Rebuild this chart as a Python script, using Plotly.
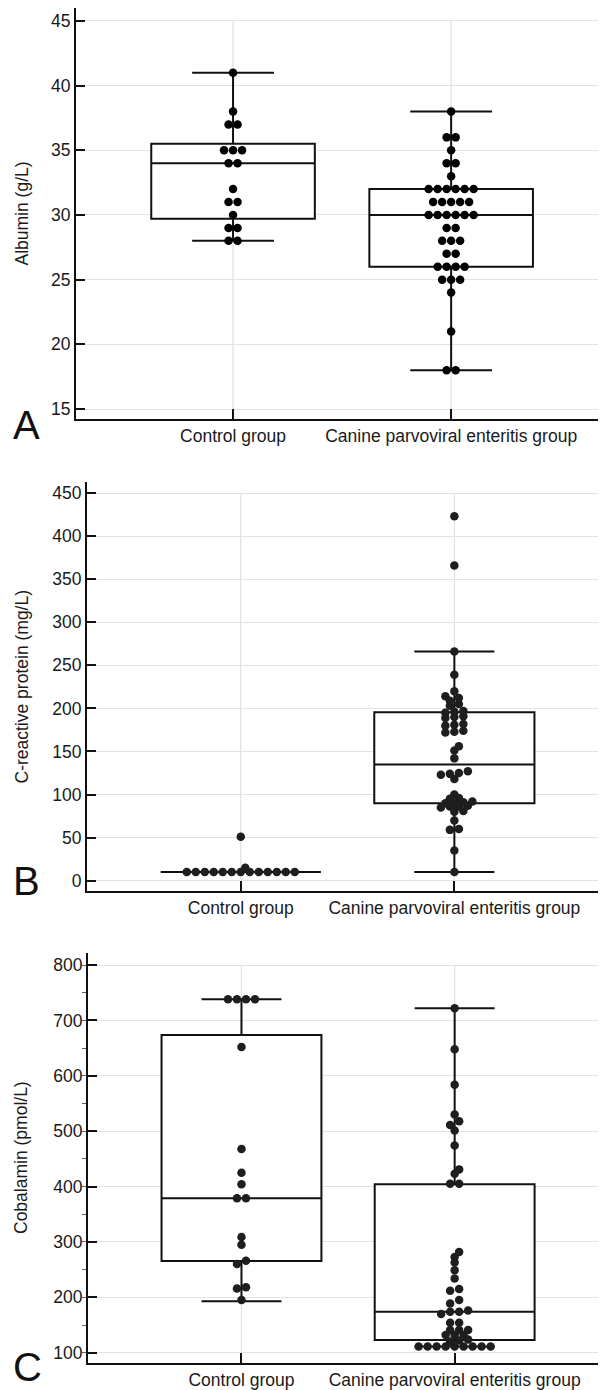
import plotly.graph_objects as go

# The page body adds an 8 px margin, so the figure is drawn 8 px in from the
# top-left of the 606x1390 window; all pixel positions below are window pixels.
PAGE = 8
W, H = 606 - PAGE, 1390 - PAGE

categories = ["Control group", "Canine parvoviral enteritis group"]

# ---------------- Panel A: Albumin (g/L) ----------------
albumin_control = [41, 38, 37, 37, 35, 35, 35, 34, 34, 32, 31, 31, 30, 29, 29, 28, 28]
albumin_cpv = [38, 36, 36, 35, 34, 34, 33,
               32, 32, 32, 32, 32, 32,
               31, 31, 31, 31, 31,
               30, 30, 30, 30, 30, 30,
               29, 29, 28, 28, 28, 27, 27,
               26, 26, 26, 26, 25, 25, 25,
               24, 21, 18, 18]
albumin_q1 = [29.7, 26.0]
albumin_median = [34.0, 30.0]
albumin_q3 = [35.5, 32.0]
albumin_lower = [28.0, 18.0]
albumin_upper = [41.0, 38.0]
albumin_ticks = [15, 20, 25, 30, 35, 40, 45]

# ---------------- Panel B: C-reactive protein (mg/L) ----------------
crp_control = [10, 10, 10, 10, 10, 10, 10, 10, 10, 10, 10, 10, 10, 15, 51]
crp_cpv = [423, 366, 266, 239, 220, 214, 212, 209, 205, 203,
           197, 196, 195, 191, 190, 189, 182, 181, 180, 174, 173, 172,
           156, 151, 142, 127, 125, 124, 123, 118, 100, 96, 95,
           92, 91, 90, 90, 87, 86, 86, 85, 81, 80, 70, 60, 59, 35, 10]
crp_q1 = [10.0, 90.0]
crp_median = [10.0, 135.0]
crp_q3 = [10.0, 195.5]
crp_lower = [10.0, 10.0]
crp_upper = [10.0, 266.0]
crp_ticks = [0, 50, 100, 150, 200, 250, 300, 350, 400, 450]

# ---------------- Panel C: Cobalamin (pmol/L) ----------------
cobalamin_control = [738, 738, 738, 738, 652, 468, 425, 404, 379, 379,
                     309, 295, 266, 260, 218, 216, 195]
cobalamin_cpv = [722, 648, 584, 530, 518, 511, 501, 474, 431, 423, 405, 405,
                 282, 273, 263, 249, 234, 215, 212, 195, 189,
                 176, 174, 174, 170, 154, 154, 141, 141, 141, 132, 132, 132,
                 124, 122, 120,
                 111, 111, 111, 111, 111, 111, 111, 111, 111]
cobalamin_q1 = [265.5, 123.0]
cobalamin_median = [379.0, 174.0]
cobalamin_q3 = [673.6, 404.0]
cobalamin_lower = [193.0, 111.0]
cobalamin_upper = [738.0, 722.0]
cobalamin_ticks = [100, 200, 300, 400, 500, 600, 700, 800]

FONT = "Liberation Sans, Arial, Helvetica, sans-serif"
GRID = "#e3e3e3"
INK = "#111111"
TXT = "#1a1a1a"
TICK_SIZE = 17.5
X_RANGE = [-0.72, 1.71]

# panel geometry in window pixels (left edge of plot, top, bottom) and y ranges
panels = [
    dict(name="A", title="Albumin (g/L)", left=76, top=8, bottom=419, letter_y=425,
         yrange=[14.23, 46.0], ticks=albumin_ticks,
         groups=[albumin_control, albumin_cpv],
         q1=albumin_q1, med=albumin_median, q3=albumin_q3,
         lo=albumin_lower, hi=albumin_upper, dot="#000000", minor=None),
    dict(name="B", title="C-reactive protein (mg/L)", left=87, top=482, bottom=891, letter_y=881,
         yrange=[-11.96, 462.8], ticks=crp_ticks,
         groups=[crp_control, crp_cpv],
         q1=crp_q1, med=crp_median, q3=crp_q3,
         lo=crp_lower, hi=crp_upper, dot="#1e1e1e", minor=None),
    dict(name="C", title="Cobalamin (pmol/L)", left=88, top=953, bottom=1363, letter_y=1367,
         yrange=[81.4, 821.7], ticks=cobalamin_ticks,
         groups=[cobalamin_control, cobalamin_cpv],
         q1=cobalamin_q1, med=cobalamin_median, q3=cobalamin_q3,
         lo=cobalamin_lower, hi=cobalamin_upper, dot="#1e1e1e", minor=50),
]


def fx(px):
    """window x pixel -> paper fraction"""
    return (px - PAGE) / W


def fy(py):
    """window y pixel -> paper fraction (from bottom)"""
    return 1 - (py - PAGE) / H


def swarm_offsets(values, ppu_y, ppu_x, step_px=9.0, bin_px=4.0, min_dist_px=5.0):
    """Simple beeswarm: near-equal values form symmetric rows; rows avoid overlap."""
    order = sorted(range(len(values)), key=lambda i: values[i])
    rows, cur, start = [], [], None
    for i in order:
        v = values[i]
        if cur and (v - start) * ppu_y < bin_px:
            cur.append(i)
        else:
            if cur:
                rows.append(cur)
            cur, start = [i], v
    if cur:
        rows.append(cur)
    rows.sort(key=lambda r: (-len(r), values[r[0]]))
    placed = []
    offsets = [0.0] * len(values)
    for row in rows:
        n = len(row)
        base = [(k - (n - 1) / 2) * step_px for k in range(n)]
        shift = 0.0
        for sk in [0, 1, -1, 2, -2, 3, -3, 4, -4, 5, -5, 6, -6]:
            shift = sk * step_px / 2
            ok = True
            for idx, b in zip(row, base):
                xp, yp = b + shift, values[idx] * ppu_y
                for (px, py) in placed:
                    if (xp - px) ** 2 + (yp - py) ** 2 < min_dist_px ** 2 - 1e-9:
                        ok = False
                        break
                if not ok:
                    break
            if ok:
                break
        for idx, b in zip(row, base):
            xp = b + shift
            offsets[idx] = xp / ppu_x
            placed.append((xp, values[idx] * ppu_y))
    return offsets


fig = go.Figure()
layout = dict(
    width=W, height=H,
    margin=dict(l=0, r=0, t=0, b=0, pad=0, autoexpand=False),
    paper_bgcolor="white", plot_bgcolor="white",
    showlegend=False,
    font=dict(family=FONT, size=TICK_SIZE, color=TXT),
    shapes=[], annotations=[],
)

for k, p in enumerate(panels):
    sfx = "" if k == 0 else str(k + 1)
    xa, ya = "x" + sfx, "y" + sfx
    xdom = [fx(p["left"]), 1.0]
    ydom = [fy(p["bottom"]), fy(p["top"])]
    plot_w = 606 - p["left"]
    plot_h = p["bottom"] - p["top"]
    ppu_x = plot_w / (X_RANGE[1] - X_RANGE[0])
    ppu_y = plot_h / (p["yrange"][1] - p["yrange"][0])

    # boxes
    for g in range(2):
        fig.add_trace(go.Box(
            x=[g], q1=[p["q1"][g]], median=[p["med"][g]], q3=[p["q3"][g]],
            lowerfence=[p["lo"][g]], upperfence=[p["hi"][g]],
            width=0.75, whiskerwidth=0.5, fillcolor="white",
            line=dict(color=INK, width=2), boxpoints=False,
            xaxis=xa, yaxis=ya, hoverinfo="skip", showlegend=False))
    # dots
    for g in range(2):
        vals = p["groups"][g]
        offs = swarm_offsets(vals, ppu_y, ppu_x)
        fig.add_trace(go.Scatter(
            x=[g + o for o in offs], y=vals, mode="markers",
            marker=dict(size=8.5, color=p["dot"], line=dict(width=0)),
            xaxis=xa, yaxis=ya, hoverinfo="y", showlegend=False))

    # vertical category gridlines, from the axis up to the top tick
    for g in range(2):
        layout["shapes"].append(dict(
            type="line", xref=xa, yref=ya, x0=g, x1=g,
            y0=p["yrange"][0], y1=p["ticks"][-1],
            line=dict(color=GRID, width=1.3), layer="below"))

    yax = dict(
        domain=ydom, anchor=xa, range=p["yrange"],
        tickmode="array", tickvals=p["ticks"],
        ticks="inside", ticklen=9, tickwidth=1.5, tickcolor=INK,
        showline=True, linecolor=INK, linewidth=2,
        showgrid=True, gridcolor=GRID, gridwidth=1.3, zeroline=False,
        tickfont=dict(family=FONT, size=TICK_SIZE, color=TXT),
        automargin=False,
    )
    if p["minor"]:
        yax["minor"] = dict(tickmode="linear", tick0=0, dtick=p["minor"],
                            ticks="outside", ticklen=4, tickwidth=1,
                            tickcolor="#666666", showgrid=False)
    xax = dict(
        domain=xdom, anchor=ya, range=X_RANGE,
        tickmode="array", tickvals=[0, 1], ticktext=categories,
        ticks="inside", ticklen=10, tickwidth=2, tickcolor=INK,
        showline=True, linecolor=INK, linewidth=2,
        showgrid=False, zeroline=False,
        tickfont=dict(family=FONT, size=TICK_SIZE, color=TXT),
        automargin=False,
    )
    layout["xaxis" + sfx] = xax
    layout["yaxis" + sfx] = yax

    # y-axis title (rotated), centred on the plot area
    layout["annotations"].append(dict(
        text=p["title"], xref="paper", yref="paper",
        x=fx(21), y=fy((p["top"] + p["bottom"]) / 2),
        xanchor="center", yanchor="middle", textangle=-90, showarrow=False,
        font=dict(family=FONT, size=17.5, color=TXT)))

    # panel letter
    layout["annotations"].append(dict(
        text=p["name"], xref="paper", yref="paper",
        x=fx(12), y=fy(p["letter_y"]),
        xanchor="left", yanchor="middle", showarrow=False, borderpad=0,
        font=dict(family=FONT, size=40, color="#111111")))

fig.update_layout(**layout)
fig.write_html("out.html")
